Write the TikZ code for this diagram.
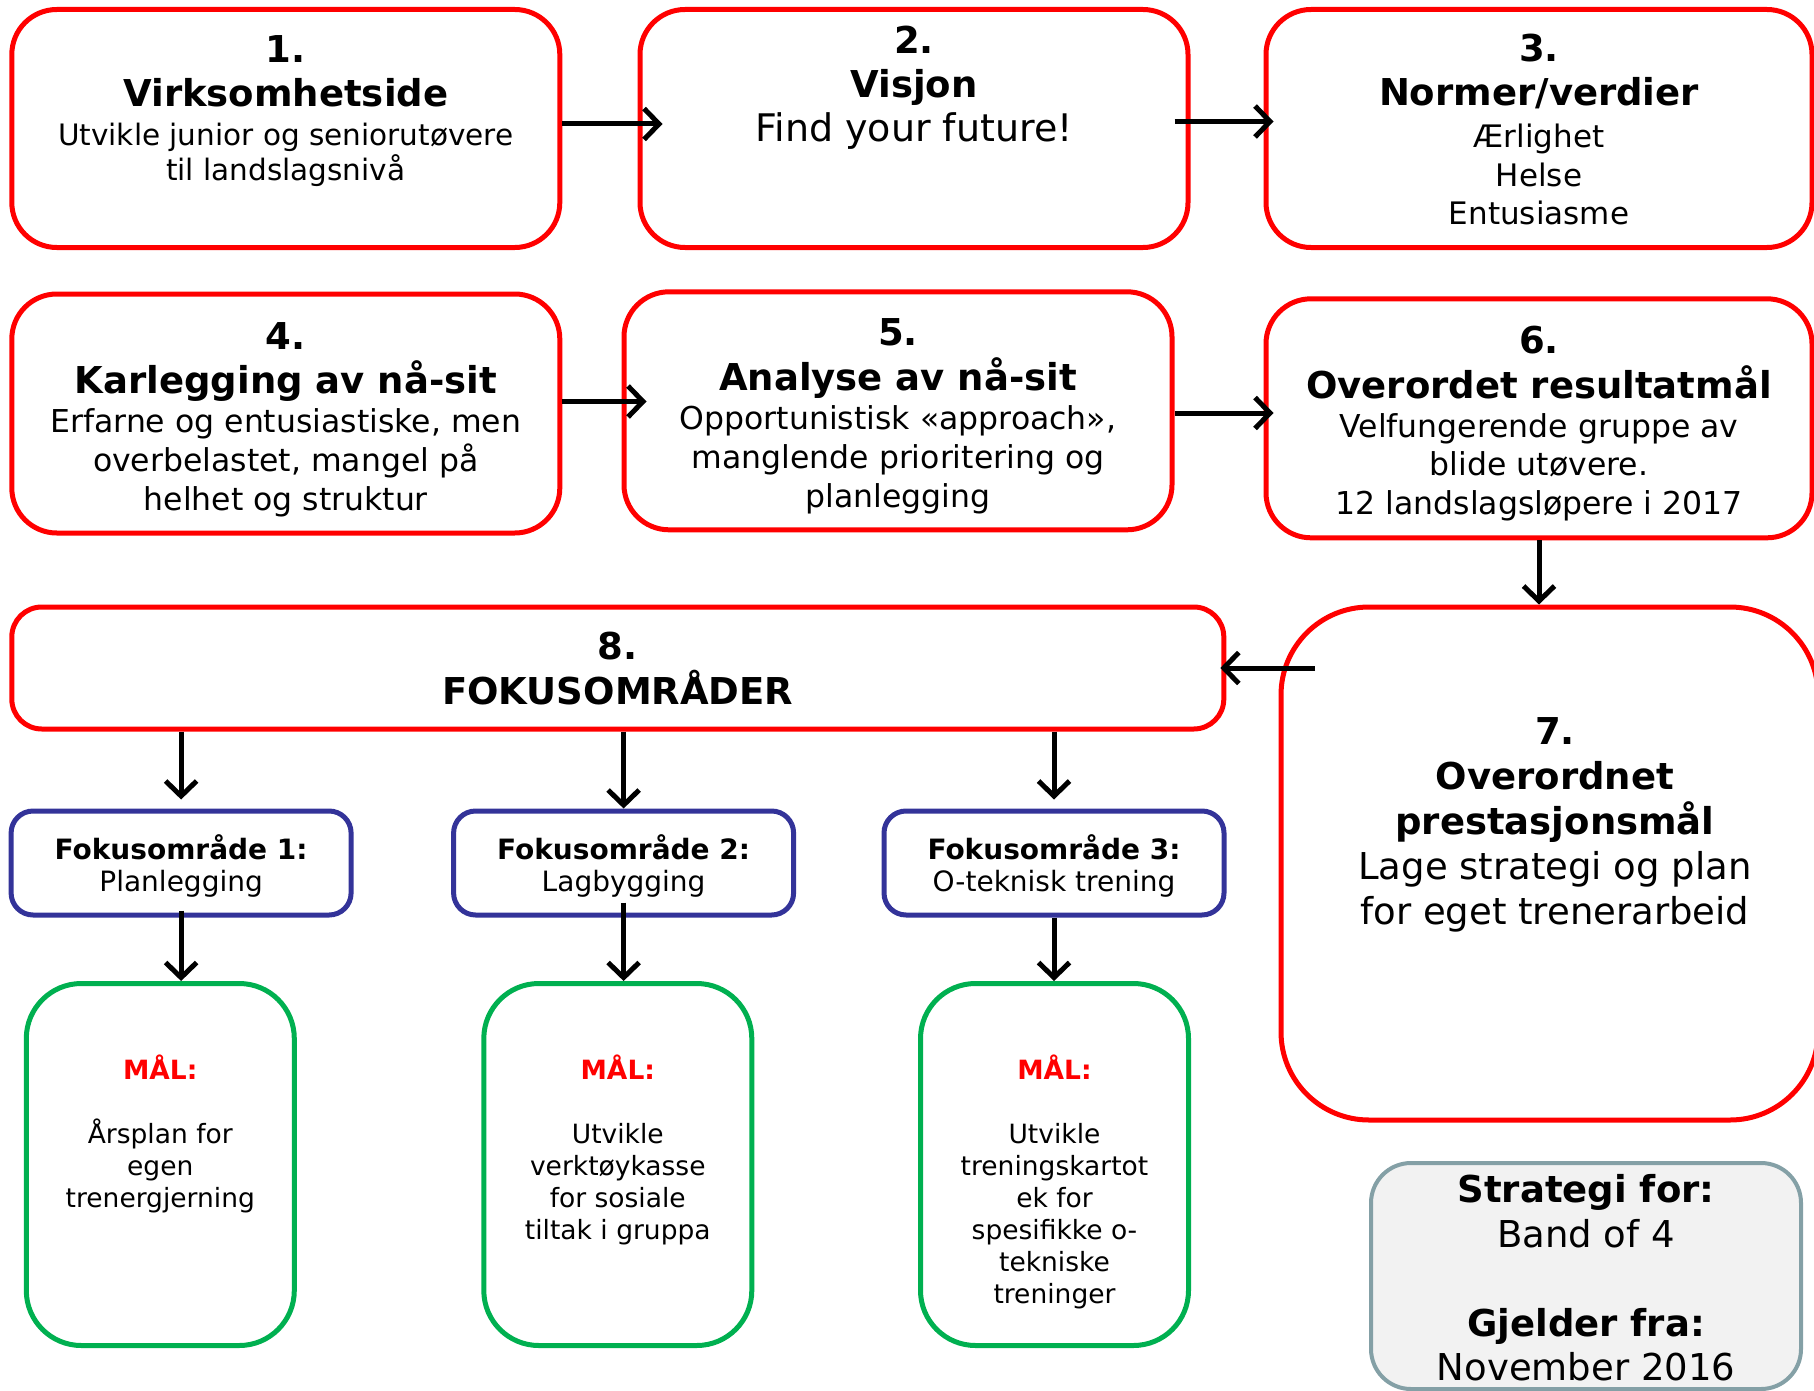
\documentclass[tikz,border=0pt]{standalone}
\usepackage{fontspec}
\setmainfont{DejaVu Sans}
\usetikzlibrary{arrows.meta}

\definecolor{boxred}{RGB}{255,0,0}
\definecolor{fokusblue}{RGB}{51,51,153}
\definecolor{goalgreen}{RGB}{0,176,80}
\definecolor{noteedge}{RGB}{132,160,166}
\definecolor{notefill}{RGB}{242,242,242}

\newcommand\HeadFont{\fontsize{37}{44}\selectfont\bfseries}

\begin{document}
\begin{tikzpicture}[x=1pt,y=-1pt,
  box/.style={draw, line width=5pt, inner sep=0pt, fill=white},
  stepbox/.style={box, draw=boxred, rounded corners=45pt},
  fokusbox/.style={box, draw=fokusblue, rounded corners=22pt, minimum width=340pt, minimum height=104pt},
  goalbox/.style={box, draw=goalgreen, rounded corners=55pt, minimum width=268pt, minimum height=362pt},
  notebox/.style={box, draw=noteedge, fill=notefill, line width=4pt, rounded corners=40pt},
  txt/.style={align=center, inner sep=0pt, anchor=north},
  arr/.style={-{Straight Barb[length=15pt,width=31pt]}, line width=5pt, black},
]
\useasboundingbox (0,0) rectangle (1814,1391);
\clip (0,0) rectangle (1814,1391);

% ---- row 1 ----
\node[stepbox, minimum width=548pt, minimum height=238pt] (b1) at (285.8,128.5) {};
\node[stepbox, minimum width=548pt, minimum height=238pt] (b2) at (914,128.5) {};
\node[stepbox, minimum width=546pt, minimum height=238pt] (b3) at (1539,128.5) {};

\node[txt, font=\fontsize{29.5}{35}\selectfont] (t1) at ([yshift=-28pt]b1.north)
  {{\HeadFont 1.}\\[9pt]{\HeadFont Virksomhetside}\\[4.5pt]Utvikle junior og seniorutøvere\\til landslagsnivå};
\node[txt, font=\fontsize{38}{44}\selectfont] (t2) at ([yshift=-19pt]b2.north)
  {{\fontsize{37}{44}\selectfont\bfseries 2.}\\{\fontsize{37}{44}\selectfont\bfseries Visjon}\\Find your future!};
\node[txt, font=\fontsize{31}{38.5}\selectfont] (t3) at ([yshift=-27.2pt]b3.north)
  {{\HeadFont 3.}\\[5.5pt]{\HeadFont Normer/verdier}\\[3.5pt]Ærlighet\\Helse\\Entusiasme};

% ---- row 2 ----
\node[stepbox, minimum width=548pt, minimum height=239pt] (b4) at (285.8,413.5) {};
\node[stepbox, minimum width=548pt, minimum height=238pt] (b5) at (898,410.8) {};
\node[stepbox, minimum width=546pt, minimum height=239pt] (b6) at (1539,418.3) {};

\node[txt, font=\fontsize{31.5}{38.8}\selectfont] (t4) at ([yshift=-30.5pt]b4.north)
  {{\HeadFont 4.}\\[6pt]{\HeadFont Karlegging av nå-sit}\\Erfarne og entusiastiske, men\\overbelastet, mangel på\\helhet og struktur};
\node[txt, font=\fontsize{31.5}{38.8}\selectfont] (t5) at ([yshift=-29.5pt]b5.north)
  {{\HeadFont 5.}\\[6pt]{\HeadFont Analyse av nå-sit}\\Opportunistisk «approach»,\\manglende prioritering og\\planlegging};
\node[txt, font=\fontsize{31.5}{38.8}\selectfont] (t6) at ([yshift=-29.5pt]b6.north)
  {{\HeadFont 6.}\\[6pt]{\HeadFont Overordet resultatmål}\\Velfungerende gruppe av\\blide utøvere.\\12 landslagsløpere i 2017};

% ---- focus header and overall goal ----
\node[box, draw=boxred, rounded corners=30pt, minimum width=1212pt, minimum height=122pt] (b8) at (617.8,668) {};
\node[txt, font=\fontsize{37}{45}\selectfont\bfseries] (t8) at ([yshift=-27pt]b8.north)
  {8.\\FOKUSOMRÅDER};

\node[box, draw=boxred, rounded corners=88pt, minimum width=537pt, minimum height=513pt] (b7) at (1549.5,863.5) {};
\node[txt, font=\fontsize{37}{45}\selectfont] (t7) at ([xshift=5.5pt,yshift=-112.5pt]b7.north)
  {{\bfseries 7.}\\{\bfseries Overordnet}\\{\bfseries prestasjonsmål}\\Lage strategi og plan\\for eget trenerarbeid};

% ---- focus areas ----
\node[fokusbox] (f1) at (181.1,863) {};
\node[fokusbox] (f2) at (623.6,863) {};
\node[fokusbox] (f3) at (1054,863) {};
\node[txt, font=\fontsize{28}{32.4}\selectfont] (tf1) at ([yshift=-25.5pt]f1.north) {{\bfseries Fokusområde 1:}\\Planlegging};
\node[txt, font=\fontsize{28}{32.4}\selectfont] (tf2) at ([yshift=-25.5pt]f2.north) {{\bfseries Fokusområde 2:}\\Lagbygging};
\node[txt, font=\fontsize{28}{32.4}\selectfont] (tf3) at ([yshift=-25.5pt]f3.north) {{\bfseries Fokusområde 3:}\\O-teknisk trening};

% ---- goals ----
\node[goalbox] (g1) at (160.3,1164.5) {};
\node[goalbox] (g2) at (617.8,1164.5) {};
\node[goalbox] (g3) at (1054.5,1164.5) {};
\node[txt, font=\fontsize{26.5}{32}\selectfont] (tg1) at ([yshift=-73.8pt]g1.north)
  {{\bfseries\color{boxred}MÅL:}\\[32pt]Årsplan for\\egen\\trenergjerning};
\node[txt, font=\fontsize{26.5}{32}\selectfont] (tg2) at ([yshift=-73.8pt]g2.north)
  {{\bfseries\color{boxred}MÅL:}\\[32pt]Utvikle\\verktøykasse\\for sosiale\\tiltak i gruppa};
\node[txt, font=\fontsize{26.5}{32}\selectfont] (tg3) at ([yshift=-73.8pt]g3.north)
  {{\bfseries\color{boxred}MÅL:}\\[32pt]Utvikle\\treningskartot\\ek for\\spesifikke o-\\tekniske\\treninger};

% ---- note ----
\node[notebox, minimum width=430pt, minimum height=226pt] (nb) at (1586,1276) {};
\node[txt, font=\fontsize{37}{44.5}\selectfont] (tn) at ([yshift=-13.5pt]nb.north)
  {{\bfseries Strategi for:}\\Band of 4\\[44.5pt]{\bfseries Gjelder fra:}\\November 2016};

% ---- connectors ----
\coordinate (c78) at (1315,668);
\draw[arr] ([yshift=4.5pt]b1.east) -- ([xshift=25pt,yshift=4.5pt]b2.west);
\draw[arr] ([xshift=-16pt,yshift=7pt]b2.east) -- ([xshift=10pt,yshift=7pt]b3.west);
\draw[arr] ([yshift=12pt]b4.east) -- ([xshift=25pt,yshift=9.3pt]b5.west);
\draw[arr] ([yshift=-2.2pt]b5.east) -- ([xshift=10pt,yshift=5.3pt]b6.west);
\draw[arr] (b6.south) -- (b6.south |- b7.north);
\draw[arr] (c78) -- ([xshift=-6pt]b8.east);
\draw[arr] (b8.south -| f1.north) -- ([yshift=9pt]f1.north);
\draw[arr] (b8.south -| f2.north) -- (f2.north);
\draw[arr] (b8.south -| f3.north) -- ([yshift=9pt]f3.north);
\draw[arr] ([yshift=7pt]f1.south) -- (f1.south |- g1.north);
\draw[arr] ([yshift=15pt]f2.south) -- (f2.south |- g2.north);
\draw[arr] (f3.south) -- (f3.south |- g3.north);
\end{tikzpicture}
\end{document}
